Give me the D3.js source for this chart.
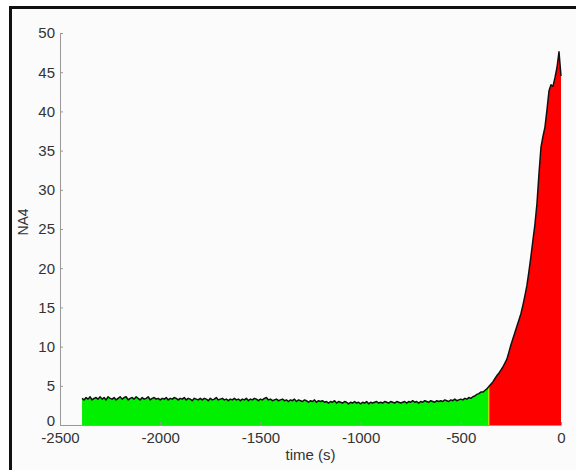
<!DOCTYPE html>
<html>
<head>
<meta charset="utf-8">
<script src="https://cdn.jsdelivr.net/npm/d3@7"></script>
<style>
  html, body { margin: 0; padding: 0; background: #ffffff; }
  svg { display: block; }
  text { font-family: "Liberation Sans", Arial, Helvetica, sans-serif; fill: #333; }
</style>
</head>
<body>
<svg id="chart" width="576" height="470"></svg>
<script>
// ---- Data ----
const startTime = -2390;      // first sample (s)
const stepSeconds = 10;       // sample spacing (s)
const splitTime = -360;       // green -> red boundary (s)
const na4Values = [
  3.4,3.2,3.5,3.3,3.6,3.2,3.4,3.5,3.3,3.6,
  3.3,3.5,3.2,3.6,3.4,3.3,3.5,3.2,3.4,3.6,
  3.3,3.5,3.6,3.2,3.4,3.5,3.3,3.6,3.4,3.2,
  3.5,3.3,3.4,3.6,3.2,3.4,3.5,3.3,3.4,3.2,
  3.4,3.3,3.5,3.2,3.4,3.3,3.5,3.4,3.2,3.4,
  3.3,3.5,3.2,3.4,3.3,3.1,3.4,3.3,3.2,3.4,
  3.2,3.4,3.3,3.1,3.4,3.2,3.3,3.5,3.2,3.3,
  3.4,3.2,3.3,3.1,3.3,3.2,3.4,3.2,3.3,3.1,
  3.3,3.2,3.4,3.1,3.3,3.2,3.4,3.3,3.1,3.3,
  3.2,3.4,3.5,3.2,3.3,3.1,3.2,3.3,3.1,3.2,
  3.3,3.1,3.2,3.0,3.2,3.1,3.3,3.0,3.2,3.1,
  3.0,3.2,3.1,2.9,3.1,3.0,3.2,2.9,3.1,3.0,
  3.1,2.9,3.0,2.8,3.0,2.9,3.1,2.8,3.0,2.9,
  2.8,3.0,2.9,2.7,2.9,2.8,3.0,2.8,2.9,2.7,
  2.9,2.8,3.0,2.7,2.9,2.8,2.9,3.0,2.8,2.9,
  2.8,3.0,2.9,2.8,3.0,2.9,2.8,3.0,2.9,2.8,
  2.9,3.0,2.8,3.0,2.9,3.1,2.9,3.0,2.8,3.0,
  2.9,3.1,3.0,2.9,3.1,3.0,2.9,3.1,3.0,3.1,
  3.0,3.2,3.1,3.0,3.2,3.1,3.3,3.1,3.2,3.3,
  3.2,3.4,3.3,3.5,3.4,3.6,3.7,3.9,4.0,4.2,
  4.2,4.4,4.6,4.9,5.2,5.5,5.9,6.3,6.6,7.0,
  7.4,7.9,8.4,9.3,10.2,11.0,11.8,12.6,13.4,14.2,
  15.3,16.5,17.8,19.6,21.5,23.6,25.6,28.2,32.0,35.4,
  36.8,38.0,40.2,42.6,43.4,43.2,44.3,45.6,47.6,44.5
];
const xTicks = [-2500, -2000, -1500, -1000, -500, 0];
const yTicks = [0, 5, 10, 15, 20, 25, 30, 35, 40, 45, 50];
const xLabel = "time (s)";
const yLabel = "NA4";

// ---- Layout ----
const svg = d3.select("#chart");
const plot = { left: 60, right: 561, top: 33, bottom: 425 };

// frame
svg.append("rect").attr("x", 10.5).attr("y", 7.5).attr("width", 620).attr("height", 520)
  .attr("fill", "#fbfbfb").attr("stroke", "#111").attr("stroke-width", 3);

const x = d3.scaleLinear().domain([-2500, 0]).range([plot.left, plot.right]);
const y = d3.scaleLinear().domain([0, 50]).range([plot.bottom, plot.top]);

const data = na4Values.map((v, i) => ({ t: startTime + i * stepSeconds, v }));
const greenData = data.filter(d => d.t <= splitTime);
const redData = data.filter(d => d.t >= splitTime);

const area = d3.area().x(d => x(d.t)).y0(y(0)).y1(d => y(d.v));
svg.append("path").datum(greenData).attr("d", area).attr("fill", "#00f000");
svg.append("path").datum(redData).attr("d", area).attr("fill", "#ff0000");

// boundary line
const splitVal = data.find(d => d.t === splitTime).v;
svg.append("line").attr("x1", x(splitTime)).attr("x2", x(splitTime))
  .attr("y1", y(0)).attr("y2", y(splitVal))
  .attr("stroke", "#e8e800").attr("stroke-width", 1);

// black trace
const line = d3.line().x(d => x(d.t)).y(d => y(d.v));
svg.append("path").datum(data).attr("d", line).attr("fill", "none")
  .attr("stroke", "#111").attr("stroke-width", 1.5).attr("stroke-linejoin", "round");

// axes
const yAxis = svg.append("g").attr("transform", `translate(${plot.left},0)`)
  .call(d3.axisLeft(y).tickValues(yTicks).tickSizeInner(-3).tickSizeOuter(0).tickPadding(5));
const xAxis = svg.append("g").attr("transform", `translate(0,${plot.bottom})`)
  .call(d3.axisBottom(x).tickValues(xTicks).tickSizeInner(-3).tickSizeOuter(0).tickPadding(7)
    .tickFormat(d => String(d)));
[xAxis, yAxis].forEach(g => {
  g.select(".domain").attr("stroke", "#999");
  g.selectAll(".tick line").attr("stroke", "#999");
  g.selectAll(".tick text").attr("font-size", 15).attr("fill", "#3a3a3a")
    .attr("font-family", "'Liberation Sans', Arial, sans-serif");
});
// y "0" label sits just above the x tick labels
yAxis.selectAll(".tick text").filter(d => d === 0).attr("dy", "0.05em");

svg.append("text").attr("x", (plot.left + plot.right) / 2).attr("y", 460)
  .attr("text-anchor", "middle").attr("font-size", 15).text(xLabel);
svg.append("text").attr("transform", `translate(28,${(plot.top + plot.bottom) / 2 - 7}) rotate(-90)`)
  .attr("text-anchor", "middle").attr("font-size", 14).text(yLabel);
</script>
</body>
</html>
